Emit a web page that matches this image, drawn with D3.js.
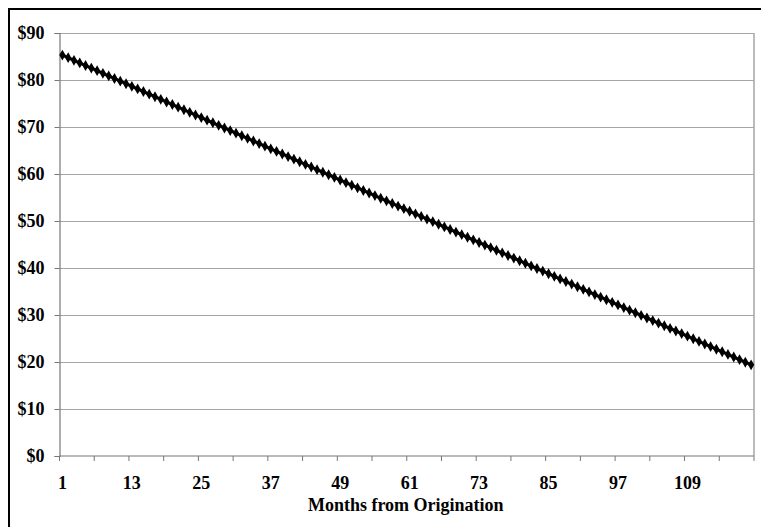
<!DOCTYPE html>
<html>
<head>
<meta charset="utf-8">
<script src="https://cdn.jsdelivr.net/npm/d3@7"></script>
<style>
  html, body { margin: 0; padding: 0; background: #fff; }
  svg { display: block; }
</style>
</head>
<body>
<svg id="chart" width="761" height="527"></svg>
<script>
// Months 1..120 (category axis)
const months = d3.range(1, 121);
// Remaining value ($) per month
const values = [
  85.30, 84.75, 84.19, 83.64, 83.08, 82.53, 81.98, 81.42, 80.87, 80.32,
  79.76, 79.21, 78.65, 78.10, 77.55, 76.99, 76.44, 75.89, 75.33, 74.78,
  74.22, 73.67, 73.12, 72.56, 72.01, 71.46, 70.90, 70.35, 69.79, 69.24,
  68.69, 68.13, 67.58, 67.03, 66.47, 65.92, 65.36, 64.81, 64.26, 63.70,
  63.15, 62.60, 62.04, 61.49, 60.93, 60.38, 59.83, 59.27, 58.72, 58.16,
  57.61, 57.06, 56.50, 55.95, 55.40, 54.84, 54.29, 53.73, 53.18, 52.63,
  52.07, 51.52, 50.97, 50.41, 49.86, 49.30, 48.75, 48.20, 47.64, 47.09,
  46.54, 45.98, 45.43, 44.87, 44.32, 43.77, 43.21, 42.66, 42.11, 41.55,
  41.00, 40.44, 39.89, 39.34, 38.78, 38.23, 37.68, 37.12, 36.57, 36.01,
  35.46, 34.91, 34.35, 33.80, 33.25, 32.69, 32.14, 31.58, 31.03, 30.48,
  29.92, 29.37, 28.81, 28.26, 27.71, 27.15, 26.60, 26.05, 25.49, 24.94,
  24.38, 23.83, 23.28, 22.72, 22.17, 21.62, 21.06, 20.51, 19.95, 19.40
];
const yTicks = [0, 10, 20, 30, 40, 50, 60, 70, 80, 90];
const xLabelMonths = [1, 13, 25, 37, 49, 61, 73, 85, 97, 109];
const xTitle = "Months from Origination";

const FONT = '"Liberation Serif", "Times New Roman", serif';
const FS = 18;
const svg = d3.select("#chart");
const L = 59.5, R = 754, T = 33, B = 456;

// outer frame (extends past the picture on right and bottom)
svg.append("rect").attr("x", 9).attr("y", 9).attr("width", 800).attr("height", 600)
  .attr("fill", "none").attr("stroke", "#000").attr("stroke-width", 2);

const x = d3.scaleBand().domain(months).range([L, R]).paddingInner(0).paddingOuter(0);
const y = d3.scaleLinear().domain([0, 90]).range([B, T]);

// gridlines
svg.append("g").selectAll("line").data(yTicks.filter(d => d > 0)).join("line")
  .attr("x1", L).attr("x2", R)
  .attr("y1", d => Math.round(y(d)) + 0.5).attr("y2", d => Math.round(y(d)) + 0.5)
  .attr("stroke", "#a6a6a6").attr("stroke-width", 1.2);

// right plot border
svg.append("line").attr("x1", R).attr("x2", R).attr("y1", T).attr("y2", B)
  .attr("stroke", "#a6a6a6").attr("stroke-width", 1.5);

// y axis
const yAxis = d3.axisLeft(y).tickValues(yTicks).tickFormat(d => "$" + d).tickSize(5).tickPadding(10);
const gy = svg.append("g").attr("transform", `translate(${L},0)`).call(yAxis)
  .attr("font-family", FONT).attr("font-size", FS).attr("font-weight", "bold");
gy.select(".domain").attr("stroke", "#777").attr("stroke-width", 1.2);
gy.selectAll(".tick line").attr("stroke", "#777");
gy.selectAll(".tick text").attr("fill", "#000");

// x axis: ticks at every 6th category boundary, labels every 12th category
const bw = x.bandwidth();
const tickPos = d3.range(0, months.length + 1, 6).map(i => L + i * bw);
const gx = svg.append("g").attr("font-family", FONT).attr("font-size", FS).attr("font-weight", "bold");
gx.append("line").attr("x1", L).attr("x2", R).attr("y1", B).attr("y2", B)
  .attr("stroke", "#777").attr("stroke-width", 1.2);
gx.selectAll("line.tk").data(tickPos).join("line").attr("class", "tk")
  .attr("x1", d => d).attr("x2", d => d).attr("y1", B).attr("y2", B + 5)
  .attr("stroke", "#777").attr("stroke-width", 1);
gx.selectAll("text").data(xLabelMonths).join("text")
  .attr("x", d => x(d) + bw / 2).attr("y", 489)
  .attr("text-anchor", "middle").attr("fill", "#000").text(d => d);

svg.append("text").attr("x", (L + R) / 2 - 1).attr("y", 511).attr("text-anchor", "middle")
  .attr("font-family", FONT).attr("font-size", FS).attr("font-weight", "bold")
  .attr("fill", "#000").text(xTitle);

// series line + diamond markers
const pts = months.map((m, i) => ({ m, v: values[i] }));
const line = d3.line().x(d => x(d.m) + bw / 2).y(d => y(d.v));
svg.append("path").datum(pts).attr("d", line).attr("fill", "none")
  .attr("stroke", "#000").attr("stroke-width", 3);
const diamond = d3.symbol().type(d3.symbolDiamond).size(34);
svg.append("g").selectAll("path").data(pts).join("path")
  .attr("transform", d => `translate(${x(d.m) + bw / 2},${y(d.v)})`)
  .attr("d", diamond).attr("fill", "#000");
</script>
</body>
</html>
